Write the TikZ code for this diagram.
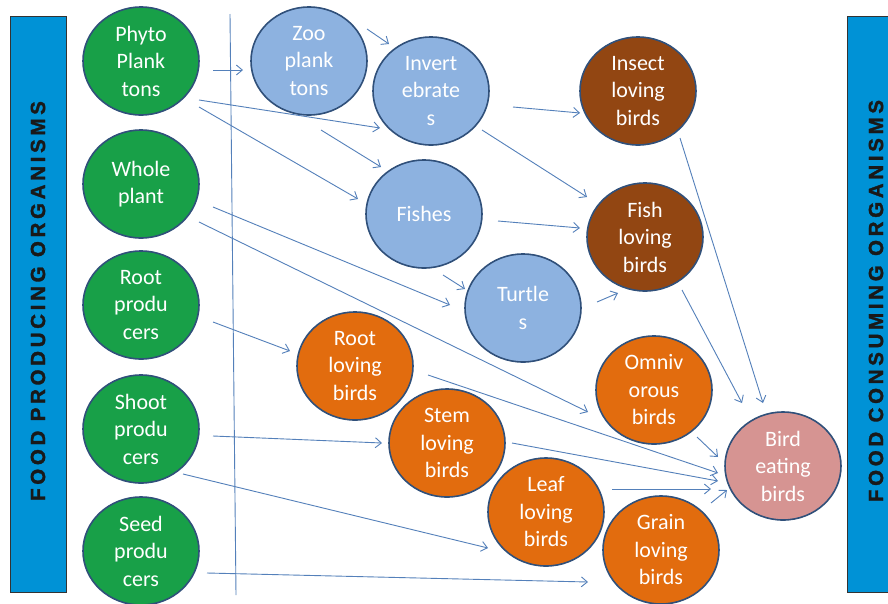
\documentclass[tikz,border=0pt]{standalone}
\usepackage{fontspec}
\setmainfont{Carlito}
\newfontfamily\barfont[LetterSpace=18,FakeBold=1.5]{Liberation Sans Bold}
\usetikzlibrary{shapes.geometric,arrows.meta}
\definecolor{barblue}{RGB}{0,146,214}
\definecolor{outl}{RGB}{48,80,122}
\definecolor{arrc}{RGB}{84,128,186}
\definecolor{cgreen}{RGB}{24,160,72}
\definecolor{cblue}{RGB}{141,178,224}
\definecolor{cbrown}{RGB}{146,70,18}
\definecolor{corange}{RGB}{226,108,14}
\definecolor{cpink}{RGB}{214,148,146}
\tikzset{
  bub/.style={ellipse, draw=outl, line width=1.6pt, minimum width=116pt, minimum height=108pt,
    inner sep=0pt, align=center, text=white, font=\fontsize{22}{27.5}\selectfont},
  gbub/.style={bub, fill=cgreen},
  lbub/.style={bub, fill=cblue},
  bbub/.style={bub, fill=cbrown},
  obub/.style={bub, fill=corange},
  pbub/.style={bub, fill=cpink},
  arr/.style={draw=arrc, line width=0.9pt, -{Straight Barb[length=6pt,width=10pt,line width=0.9pt]}},
  sidebar/.style={draw=black!80, line width=0.8pt, fill=barblue},
  bartext/.style={rotate=90, font=\barfont\fontsize{20.5}{24}\selectfont, text=black!90}
}
\begin{document}
\begin{tikzpicture}[x=1pt,y=-1pt]
\useasboundingbox (0,0) rectangle (888,603);
\fill[white] (0,0) rectangle (888,603);
% side bars
\draw[sidebar] (10,16) rectangle (66,592);
\node[bartext] (lefttxt) at (38,301) {FOOD PRODUCING ORGANISMS};
\draw[sidebar] (847,16) rectangle (895,592);
\node[bartext] (righttxt) at (876,301) {FOOD CONSUMING ORGANISMS};
% vertical divider
\coordinate (vtop) at (230,14);
\coordinate (vbot) at (236,595);
\draw[arrc, line width=0.9pt] (vtop) -- (vbot);
% producers
\node[gbub] (phyto) at (141,61) {Phyto\\Plank\\tons};
\node[gbub] (whole) at (141,184) {Whole\\plant};
\node[gbub] (rootp) at (141,305) {Root\\produ\\cers};
\node[gbub] (shoot) at (141,429) {Shoot\\produ\\cers};
\node[gbub] (seed) at (141,551) {Seed\\produ\\cers};
% consumers
\node[lbub] (zoo) at (309,61) {Zoo\\plank\\tons};
\node[lbub] (invert) at (431,91) {Invert\\ebrate\\s};
\node[lbub] (fishes) at (424,214) {Fishes};
\node[lbub] (turtle) at (523,308) {Turtle\\s};
\node[obub] (rootlov) at (355,366) {Root\\loving\\birds};
\node[obub] (stem) at (447,443) {Stem\\loving\\birds};
\node[obub] (leaf) at (546,512) {Leaf\\loving\\birds};
\node[bbub] (insect) at (638,91) {Insect\\loving\\birds};
\node[bbub] (fishlov) at (645,237) {Fish\\loving\\birds};
\node[obub] (omniv) at (654,390) {Omniv\\orous\\birds};
\node[obub] (grain) at (661,550) {Grain\\loving\\birds};
\node[pbub] (bird) at (783,466) {Bird\\eating\\birds};
% connector end points
\coordinate (a1s) at (213,70);  \coordinate (a1e) at (243,70);
\coordinate (a2s) at (199,100); \coordinate (a2e) at (380,128);
\coordinate (a3s) at (199,107); \coordinate (a3e) at (358,199);
\coordinate (a4s) at (367,29);  \coordinate (a4e) at (389,44);
\coordinate (a5s) at (321,130); \coordinate (a5e) at (381,167);
\coordinate (a6s) at (213,207); \coordinate (a6e) at (450,305);
\coordinate (a7s) at (199,222); \coordinate (a7e) at (588,412);
\coordinate (a8s) at (443,275); \coordinate (a8e) at (465,289);
\coordinate (a9s) at (213,322); \coordinate (a9e) at (290,351);
\coordinate (a10s) at (213,436); \coordinate (a10e) at (382,443);
\coordinate (a11s) at (183,474); \coordinate (a11e) at (488,548);
\coordinate (a12s) at (207,573); \coordinate (a12e) at (588,582);
\coordinate (a13s) at (513,107); \coordinate (a13e) at (580,113);
\coordinate (a14s) at (482,130); \coordinate (a14e) at (587,197);
\coordinate (a15s) at (498,221); \coordinate (a15e) at (580,228);
\coordinate (a16s) at (597,302); \coordinate (a16e) at (618,293);
\coordinate (a17s) at (680,138); \coordinate (a17e) at (763,403);
\coordinate (a18s) at (682,290); \coordinate (a18e) at (742,403);
\coordinate (a19s) at (697,437); \coordinate (a19e) at (718,457);
\coordinate (a20s) at (428,375); \coordinate (a20e) at (718,473);
\coordinate (a21s) at (512,443); \coordinate (a21e) at (718,481);
\coordinate (a22s) at (612,489); \coordinate (a22e) at (711,489);
\coordinate (a23s) at (711,503); \coordinate (a23e) at (727,490);
\foreach \i in {1,...,23} {\draw[arr] (a\i s) -- (a\i e);}
\end{tikzpicture}
\end{document}
